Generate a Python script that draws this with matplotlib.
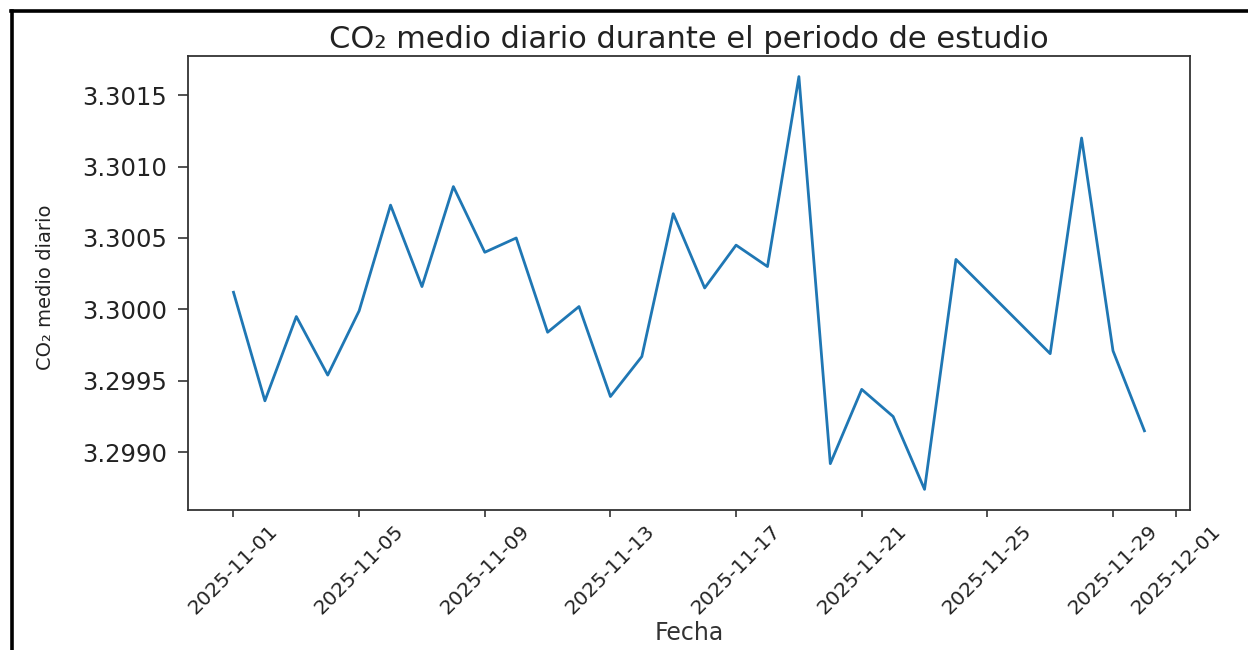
import pandas as pd
import matplotlib
matplotlib.use("Agg")
import matplotlib.pyplot as plt
import matplotlib.dates as mdates
from matplotlib.ticker import FormatStrFormatter
from matplotlib.lines import Line2D

# Fechas con medición (faltan el 25 y el 26 de noviembre)
fechas = ["2025-11-01", "2025-11-02", "2025-11-03", "2025-11-04", "2025-11-05",
          "2025-11-06", "2025-11-07", "2025-11-08", "2025-11-09", "2025-11-10",
          "2025-11-11", "2025-11-12", "2025-11-13", "2025-11-14", "2025-11-15",
          "2025-11-16", "2025-11-17", "2025-11-18", "2025-11-19", "2025-11-20",
          "2025-11-21", "2025-11-22", "2025-11-23", "2025-11-24", "2025-11-27",
          "2025-11-28", "2025-11-29", "2025-11-30"]

# CO2 medio diario
co2_medio = [3.30012, 3.29936, 3.29995, 3.29954, 3.29999,
             3.30073, 3.30016, 3.30086, 3.30040, 3.30050,
             3.29984, 3.30002, 3.29939, 3.29967, 3.30067,
             3.30015, 3.30045, 3.30030, 3.30163, 3.29892,
             3.29944, 3.29925, 3.29874, 3.30035, 3.29969,
             3.30120, 3.29971, 3.29915]

titulo = "CO₂ medio diario durante el periodo de estudio"
etiqueta_y = "CO₂ medio diario"
etiqueta_x = "Fecha"


def plot_co2():
    df = pd.DataFrame({"fecha": pd.to_datetime(fechas), "co2": co2_medio})

    fig = plt.figure(figsize=(12.48, 6.5), dpi=100)
    ax = fig.add_axes([0.1506, 0.2154, 0.8029, 0.6985])

    ax.plot(df["fecha"], df["co2"], color="#1f77b4", linewidth=2.0)

    # ticks cada 4 días, como el localizador automático
    ax.xaxis.set_major_locator(mdates.DayLocator(bymonthday=[1, 5, 9, 13, 17, 21, 25, 29]))
    ax.xaxis.set_major_formatter(mdates.DateFormatter("%Y-%m-%d"))
    ax.yaxis.set_major_formatter(FormatStrFormatter("%.4f"))
    ax.set_yticks([3.2990, 3.2995, 3.3000, 3.3005, 3.3010, 3.3015])

    for lbl in ax.get_xticklabels():
        lbl.set_rotation(45)
        lbl.set_ha("center")

    ax.tick_params(axis="x", labelsize=14.5, length=5, width=1.1, colors="#222222", pad=3)
    ax.tick_params(axis="y", labelsize=17.5, length=7, width=1.1, colors="#222222", pad=8)
    for sp in ax.spines.values():
        sp.set_linewidth(1.3)
        sp.set_color("#333333")

    ax.set_title(titulo, fontsize=22, color="#222222", pad=6)
    ax.set_xlabel(etiqueta_x, fontsize=17, color="#333333")
    ax.set_ylabel(etiqueta_y, fontsize=14, color="#222222")
    ax.xaxis.set_label_coords(0.5, -0.245)
    ax.yaxis.set_label_coords(-0.133, 0.49)

    # marco negro de la captura (izquierda y arriba)
    fig.add_artist(Line2D([0.0093, 0.0093], [0.0, 0.9825], transform=fig.transFigure,
                          color="black", linewidth=2.6))
    fig.add_artist(Line2D([0.0085, 1.0], [0.9825, 0.9825], transform=fig.transFigure,
                          color="black", linewidth=2.6))

    fig.savefig("out.png", dpi=100)


def main():
    plot_co2()


if __name__ == "__main__":
    main()
